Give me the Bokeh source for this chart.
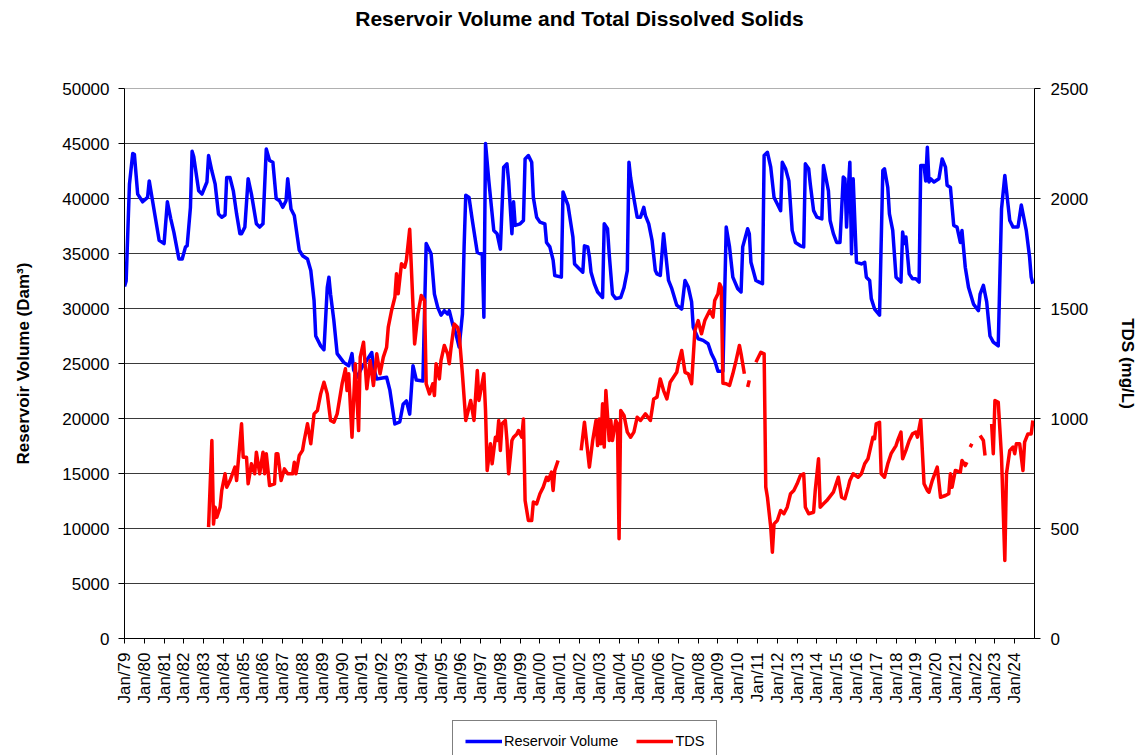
import math
from bokeh.plotting import figure
from bokeh.layouts import column
from bokeh.models import Range1d, LinearAxis, FixedTicker, Legend, LegendItem, ColumnDataSource, Label
from bokeh.embed import file_html
from bokeh.resources import INLINE

nan = float("nan")

# Reservoir volume (Dam3); month offsets counted from Jan 1979
vol_month = [0, 1, 3, 5, 6, 8, 11, 14, 15, 17,
             19, 21, 24, 26, 28, 30, 33, 35, 37, 38,
             40, 41, 42, 45, 47, 50, 51, 53, 55, 57,
             59, 61, 62, 64, 66, 68, 70, 71, 73, 75,
             77, 80, 82, 84, 86, 88, 90, 92, 94, 96,
             98, 99, 101, 103, 106, 108, 111, 113, 115, 116,
             119, 121, 123, 124, 125, 127, 129, 133, 136, 138,
             139, 141, 144, 147, 150, 151, 153, 159, 161, 164,
             167, 169, 171, 173, 175, 177, 181, 183, 186, 188,
             190, 192, 194, 196, 197, 199, 201, 203, 205, 206,
             207, 209, 211, 214, 216, 217, 218, 219, 221, 224,
             226, 228, 230, 232, 233, 235, 236, 237, 240, 242,
             243, 245, 247, 248, 250, 252, 255, 256, 258, 260,
             261, 265, 266, 269, 272, 273, 276, 278, 279, 281,
             282, 283, 285, 287, 290, 291, 293, 294, 296, 298,
             301, 303, 305, 306, 307, 309, 311, 313, 315, 316,
             318, 320, 322, 323, 325, 327, 330, 332, 335, 338,
             340, 342, 344, 345, 348, 351, 354, 356, 358, 360,
             363, 365, 367, 369, 372, 374, 375, 378, 379, 380,
             383, 385, 387, 388, 390, 392, 394, 396, 398, 399,
             401, 403, 405, 407, 410, 412, 413, 415, 416, 418,
             420, 423, 424, 425, 427, 428, 430, 432, 434, 436,
             437, 438, 439, 440, 441, 442, 444, 447, 449, 450,
             452, 453, 455, 458, 460, 461, 463, 464, 466, 468,
             471, 472, 473, 474, 476, 478, 480, 482, 483, 485,
             486, 487, 488, 489, 491, 494, 496, 498, 499, 501,
             503, 505, 507, 508, 510, 512, 515, 518, 519, 521,
             523, 525, 527, 530, 532, 534, 537, 539, 542, 544,
             547, 549, 550, 551]
vol_value = [32000, 32500, 41300, 44100, 44000, 40400, 39700, 40100, 41600, 39800,
             38000, 36200, 35900, 39700, 38200, 36900, 34500, 34500, 35600, 35700,
             39200, 44300, 43800, 40700, 40400, 41500, 43900, 42500, 41300, 38600,
             38300, 38500, 41900, 41900, 40700, 38600, 36800, 36800, 37400, 41800,
             40400, 37700, 37400, 37700, 44500, 43450, 43300, 40000, 39800, 39200,
             39800, 41800, 39050, 38450, 35300, 34800, 34500, 33450, 30700, 27500,
             26600, 26250, 31900, 32850, 31300, 28900, 25900, 25100, 24800, 25900,
             24400, 23750, 24650, 25300, 26000, 24650, 23600, 23750, 22550, 19500,
             19700, 21300, 21600, 20400, 24800, 23500, 23400, 35900, 34970, 31300,
             30100, 29400, 29800, 29500, 29800, 28600, 27700, 26500, 29500, 35600,
             40300, 40100, 38000, 35100, 34970, 34970, 29200, 45000, 41600, 37100,
             36800, 35400, 42850, 43150, 41600, 36800, 39700, 37550, 37700, 38000,
             43600, 43900, 43300, 40100, 38300, 37850, 37700, 36000, 35600, 34400,
             33000, 32850, 40600, 39400, 36500, 34050, 33600, 33300, 35700, 35600,
             34700, 33300, 32250, 31500, 31000, 37700, 37250, 34970, 31300, 30900,
             31000, 31900, 33450, 43300, 41900, 40000, 38300, 38300, 39200, 38450,
             37700, 36200, 33450, 33150, 33000, 36800, 32550, 31800, 30300, 29950,
             32550, 31950, 30600, 28300, 27250, 27100, 26800, 25900, 25300, 24300,
             24300, 37400, 35600, 32850, 31800, 31500, 35600, 37250, 36800, 34200,
             32550, 32400, 32250, 43900, 44200, 42850, 40100, 39500, 38900, 43300,
             42700, 41600, 37100, 36000, 35700, 35600, 43150, 42700, 41300, 38900,
             38300, 38150, 43000, 42250, 40700, 38000, 36800, 36000, 36000, 41950,
             41800, 37400, 40700, 43300, 34970, 41800, 34200, 34050, 34200, 32850,
             32550, 30900, 29950, 29400, 42550, 42700, 41000, 38600, 37100, 32850,
             32400, 36950, 35900, 36500, 33150, 32700, 32700, 32400, 43000, 43000,
             41600, 44650, 41500, 41800, 41500, 41800, 43600, 42850, 41200, 41000,
             37550, 37400, 36000, 37100, 33750, 31900, 30400, 29800, 31300, 32100,
             30600, 27500, 26950, 26600, 39050, 42100, 38000, 37400, 37400, 39400,
             37100, 34700, 32850, 32250]

# Total dissolved solids (mg/L); nan marks a gap in the record
tds_month = [51, 53, 54, 55, 56, 58, 59, 61, 62, 64,
             67, 68, 71, 72, 74, 75, 77, 79, 80, 82,
             84, 85, 86, 88, 91, 92, 93, 95, 97, 99,
             102, 103, 104, 106, 108, 109, 111, 113, 115, 117,
             119, 121, 123, 125, 127, 129, 131, 132, 134, 135,
             136, 138, 140, 142, 143, 145, 147, 149, 151, 153,
             155, 157, 159, 160, 162, 164, 165, 166, 168, 170,
             171, 173, 176, 178, 180, 182, 183, 185, 187, 188,
             189, 191, 192, 194, 196, 197, 198, 200, 202, 203,
             205, 207, 210, 212, 214, 215, 218, 219, 220, 222,
             223, 225, 226, 227, 228, 229, 231, 232, 233, 235,
             236, 238, 239, 241, 242, 243, 245, 247, 248, 250,
             252, 254, 256, 257, 259, 260, 261, 263, 264, 277,
             279, 282, 284, 286, 287, 288, 289, 290, 291, 292,
             294, 295, 296, 298, 299, 300, 301, 303, 305, 307,
             309, 311, 313, 316, 319, 321, 323, 325, 327, 329,
             331, 335, 336, 338, 340, 342, 344, 345, 346, 348,
             350, 352, 355, 357, 358, 360, 361, 362, 363, 365,
             367, 369, 371, 373, 374, 376, 377, 378, 379, 380,
             383, 386, 388, 389, 390, 392, 393, 394, 396, 398,
             400, 402, 404, 406, 408, 410, 412, 413, 415, 418,
             419, 421, 422, 424, 426, 430, 433, 435, 437, 439,
             440, 442, 445, 447, 449, 451, 454, 455, 456, 458,
             459, 461, 463, 465, 468, 469, 471, 472, 474, 476,
             478, 480, 481, 483, 485, 487, 488, 490, 493, 495,
             498, 500, 501, 502, 504, 507, 508, 510, 511, 512,
             513, 514, 515, 519, 521, 522, 523, 526, 527, 528,
             530, 532, 534, 535, 537, 539, 540, 541, 543, 545,
             546, 548, 550, 551]
tds_value = [506, 900, 520, 597, 551, 597, 673, 749, 688, 718,
             779, 718, 976, 824, 824, 703, 794, 749, 847, 749,
             847, 749, 840, 695, 703, 840, 840, 718, 771, 749,
             749, 801, 749, 832, 855, 900, 976, 885, 1021, 1036,
             1112, 1165, 1112, 991, 983, 1021, 1112, 1158, 1226, 1127,
             1203, 915, 1249, 945, 1279, 1347, 1135, 1264, 1150, 1294,
             1203, 1279, 1324, 1415, 1491, 1551, 1658, 1567, 1703, 1688,
             1720, 1860, 1339, 1476, 1559, 1536, 1158, 1112, 1158, 1105,
             1249, 1180, 1264, 1332, 1294, 1249, 1317, 1430, 1415, 1385,
             1200, 991, 1082, 991, 1218, 1082, 1203, 1036, 764, 885,
             794, 915, 900, 991, 855, 976, 991, 900, 749, 900,
             915, 930, 945, 915, 998, 627, 536, 536, 620, 612,
             658, 688, 733, 718, 756, 673, 764, 809, nan, 855,
             983, 779, 900, 991, 877, 998, 885, 1067, 870, 1127,
             900, 991, 900, 991, 976, 453, 1036, 1014, 938, 915,
             938, 1006, 991, 1021, 991, 1089, 1097, 1180, 1127, 1089,
             1165, 1210, 1249, 1309, 1210, 1203, 1158, 1279, 1400, 1445,
             1385, 1445, 1491, 1461, 1536, 1567, 1612, 1597, 1160, 1158,
             1150, 1203, 1264, 1332, 1294, 1203, nan, 1143, 1173, nan,
             1256, 1301, 1294, 688, 642, 506, 392, 521, 536, 582,
             567, 597, 658, 673, 703, 741, 749, 597, 567, 574,
             673, 817, 597, 612, 627, 665, 733, 642, 635, 688,
             718, 749, 733, 749, 794, 817, 915, 908, 976, 983,
             749, 733, 794, 840, 877, 900, 938, 817, 855, 900,
             930, 938, 915, 994, 703, 673, 665, 718, 779, 642,
             650, 658, 749, 688, 764, 756, 809, 786, 801, nan,
             870, 885, nan, 923, 900, 832, nan, 976, 840, 1082,
             1074, 824, 355, 749, 855, 870, 840, 885, 885, 764,
             893, 930, 930, 991]

years = list(range(1979, 2025))
year_labels = ["Jan/%02d" % (y % 100) for y in years]
vol_ticks = list(range(0, 50001, 5000))
tds_ticks = list(range(0, 2501, 500))
series_names = ["Reservoir Volume", "TDS"]
series_colors = ["#0000ff", "#ff0000"]
chart_title = "Reservoir Volume and Total Dissolved Solids"

assert len(vol_month) == len(vol_value)
assert len(tds_month) == len(tds_value)

FONT = "Liberation Sans"
W = 1140
LB = 124
RB = W - 1034

vol_src = ColumnDataSource(dict(x=[1979 + m / 12.0 for m in vol_month], y=vol_value))
tds_src = ColumnDataSource(dict(x=[1979 + m / 12.0 for m in tds_month], y=tds_value))

# title strip (frame aligned with the chart frame)
tf = figure(width=W, height=44, x_range=Range1d(0, 1), y_range=Range1d(0, 44),
            output_backend="svg", toolbar_location=None,
            min_border_left=LB, min_border_right=RB, min_border_top=0, min_border_bottom=0,
            x_axis_type=None, y_axis_type=None)
tf.outline_line_color = None
tf.grid.visible = False
tf.add_layout(Label(x=0.5, y=44 - 18, text=chart_title, text_align="center",
                    text_baseline="middle", text_font=FONT, text_font_size="21px",
                    text_font_style="bold", text_color="black"))

p = figure(width=W, height=673, x_range=Range1d(1979, 2025), y_range=Range1d(0, 50000),
           output_backend="svg", toolbar_location=None,
           min_border_left=LB, min_border_right=RB, min_border_top=44, min_border_bottom=79)
p.extra_y_ranges = {"tds": Range1d(0, 2500)}

p.outline_line_color = "#b0b0b0"
p.xgrid.visible = False
p.ygrid.ticker = FixedTicker(ticks=vol_ticks)
p.ygrid.grid_line_color = "#3a3a3a"
p.ygrid.grid_line_width = 1.2

xa = p.xaxis[0]
xa.ticker = FixedTicker(ticks=years)
xa.major_label_overrides = {y: l for y, l in zip(years, year_labels)}
xa.major_label_orientation = math.pi / 2
xa.major_label_text_font = FONT
xa.major_label_text_font_size = "17px"
xa.major_label_text_color = "black"
xa.major_tick_out = 5
xa.major_tick_in = 0
xa.minor_tick_out = 0
xa.minor_tick_in = 0
xa.axis_line_color = "black"
xa.major_tick_line_color = "black"
xa.major_label_standoff = 9

ya = p.yaxis[0]
ya.ticker = FixedTicker(ticks=vol_ticks)
ya.axis_label = "Reservoir Volume (Dam³)"
ya.axis_label_text_font = FONT
ya.axis_label_text_font_size = "17px"
ya.axis_label_text_font_style = "bold"
ya.axis_label_text_color = "black"
ya.axis_label_standoff = 26
ya.major_label_text_font = FONT
ya.major_label_text_font_size = "17px"
ya.major_label_text_color = "black"
ya.major_tick_out = 6
ya.major_tick_in = 0
ya.minor_tick_out = 0
ya.minor_tick_in = 0
ya.axis_line_color = "black"
ya.major_tick_line_color = "black"
ya.major_label_standoff = 9

ra = LinearAxis(y_range_name="tds", ticker=FixedTicker(ticks=tds_ticks))
ra.axis_label = "TDS (mg/L)"
ra.axis_label_text_font = FONT
ra.axis_label_text_font_size = "17px"
ra.axis_label_text_font_style = "bold"
ra.axis_label_text_color = "black"
ra.axis_label_standoff = 27
ra.major_label_text_font = FONT
ra.major_label_text_font_size = "17px"
ra.major_label_text_color = "black"
ra.major_tick_out = 6
ra.major_tick_in = 0
ra.minor_tick_out = 0
ra.minor_tick_in = 0
ra.axis_line_color = "black"
ra.major_tick_line_color = "black"
ra.major_label_standoff = 10
p.add_layout(ra, "right")

p.line("x", "y", source=vol_src, line_color=series_colors[0], line_width=3.5, line_join="round")
p.line("x", "y", source=tds_src, line_color=series_colors[1], line_width=3.5, line_join="round",
       y_range_name="tds")

# legend strip below the chart (frame aligned with the chart frame)
lf = figure(width=W, height=38, x_range=Range1d(0, 1), y_range=Range1d(0, 1),
            output_backend="svg", toolbar_location=None,
            min_border_left=LB, min_border_right=RB, min_border_top=0, min_border_bottom=0,
            x_axis_type=None, y_axis_type=None)
lf.outline_line_color = None
lf.grid.visible = False
items = []
for name, col in zip(series_names, series_colors):
    r = lf.line(x=[-10, -9], y=[-10, -10], line_color=col, line_width=3.5)
    items.append(LegendItem(label=name, renderers=[r]))
legend = Legend(items=items, orientation="horizontal", location=(328, -7))
legend.label_text_font = FONT
legend.label_text_font_size = "14.5px"
legend.label_text_color = "black"
legend.glyph_width = 37
legend.glyph_height = 16
legend.label_standoff = 2
legend.spacing = 18
legend.padding = 12
legend.margin = 0
legend.border_line_color = "black"
legend.border_line_width = 1
legend.background_fill_color = "white"
legend.background_fill_alpha = 1
lf.add_layout(legend)

open("out.html", "w").write(file_html(column(tf, p, lf, spacing=0), INLINE))
